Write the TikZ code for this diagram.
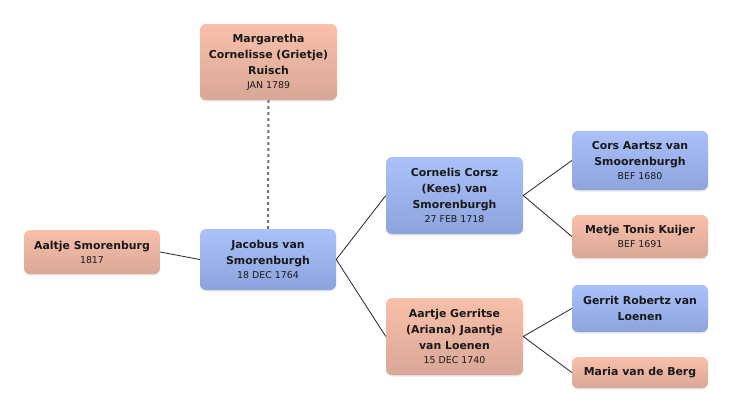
\documentclass[tikz,border=0pt]{standalone}
\usepackage{fontspec}
\setmainfont{DejaVu Sans}
\usetikzlibrary{shadows}

\newcommand{\namefont}{\fontsize{10.9}{16}\selectfont\bfseries}
\newcommand{\datefont}{\fontsize{9.4}{13}\selectfont\mdseries}

\definecolor{femtop}{HTML}{F9C0AB}
\definecolor{fembot}{HTML}{D9A797}
\definecolor{maltop}{HTML}{AAC1FA}
\definecolor{malbot}{HTML}{8DA3DD}

\tikzset{
    person/.style={rounded corners=6pt, align=center, inner sep=2pt, font=\namefont,
        text=black!90, drop shadow={opacity=0.18, shadow xshift=0pt, shadow yshift=-1.5pt}},
    female/.style={person, top color=femtop, bottom color=fembot},
    male/.style={person, top color=maltop, bottom color=malbot},
    link/.style={black!85, line width=0.8pt},
    marriage/.style={black!55, line width=2pt, dash pattern=on 2.7pt off 3.3pt}
}

\begin{document}
\begin{tikzpicture}[x=1pt,y=-1pt,line join=round]

    % Page frame
    \useasboundingbox[fill=white] (0,0) rectangle (732,413);

    % Spouse on top
    \node[female, minimum width=137pt, minimum height=76pt] (grietje) at (268.5,62)
        {Margaretha\\Cornelisse (Grietje)\\Ruisch\\[-2pt]\datefont JAN 1789};

    % Child and focus person
    \node[female, minimum width=136pt, minimum height=44pt] (aaltje) at (92,252)
        {Aaltje Smorenburg\\[-2pt]\datefont 1817};
    \node[male, minimum width=136pt, minimum height=61pt] (jacobus) at (268,259.5)
        {Jacobus van\\Smorenburgh\\[-2pt]\datefont 18 DEC 1764};

    % Parents
    \node[male, minimum width=137pt, minimum height=77pt] (cornelis) at (454.5,195.5)
        {Cornelis Corsz\\(Kees) van\\Smorenburgh\\[-2pt]\datefont 27 FEB 1718};
    \node[female, minimum width=137pt, minimum height=77pt] (aartje) at (454.5,336.5)
        {Aartje Gerritse\\(Ariana) Jaantje\\van Loenen\\[-2pt]\datefont 15 DEC 1740};

    % Grandparents
    \node[male, minimum width=136pt, minimum height=59pt] (cors) at (640,160.5)
        {Cors Aartsz van\\Smoorenburgh\\[-2pt]\datefont BEF 1680};
    \node[female, minimum width=136pt, minimum height=43pt] (metje) at (640,236.5)
        {Metje Tonis Kuijer\\[-2pt]\datefont BEF 1691};
    \node[male, minimum width=136pt, minimum height=47pt] (gerrit) at (640,308.5)
        {Gerrit Robertz van\\Loenen};
    \node[female, minimum width=136pt, minimum height=31pt] (maria) at (640,372.5)
        {Maria van de Berg};

    % Links
    \draw[marriage] (jacobus.north) -- (grietje.south);
    \draw[link] (aaltje.east) -- (jacobus.west);
    \draw[link] (cornelis.west) -- (jacobus.east) -- (aartje.west);
    \draw[link] (cors.west) -- (cornelis.east) -- (metje.west);
    \draw[link] (gerrit.west) -- (aartje.east) -- (maria.west);

\end{tikzpicture}
\end{document}
